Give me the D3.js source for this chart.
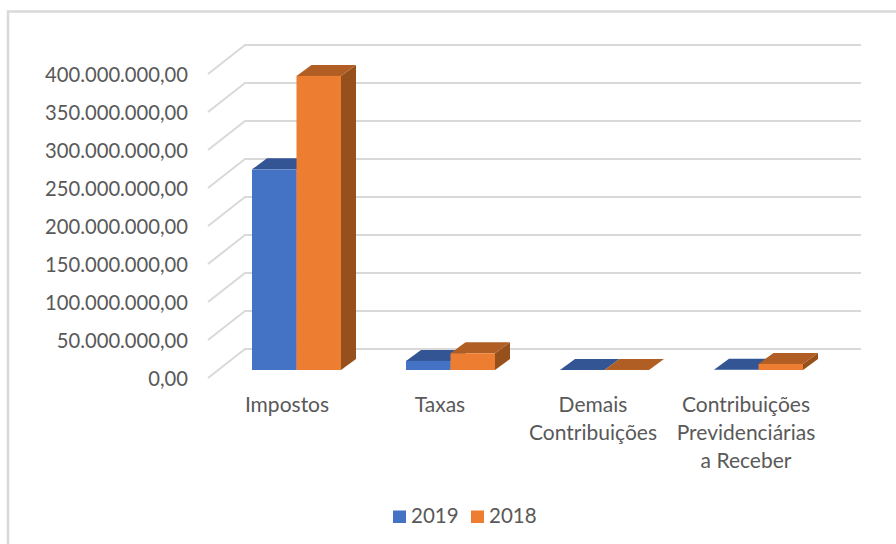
<!DOCTYPE html>
<html>
<head>
<meta charset="utf-8">
<script src="https://cdnjs.cloudflare.com/ajax/libs/d3/7.8.5/d3.min.js"></script>
<style>
html, body { margin: 0; padding: 0; background: #fff; }
svg { display: block; }
text { font-family: Lato, "Open Sans", sans-serif; fill: #595959; }
</style>
</head>
<body>
<div id="chart"></div>
<script>
// values
var categories = ["Impostos", "Taxas", "Demais Contribuições", "Contribuições Previdenciárias a Receber"];
var categoryLines = [["Impostos"], ["Taxas"], ["Demais", "Contribuições"], ["Contribuições", "Previdenciárias", "a Receber"]];
var seriesNames = ["2019", "2018"];
var values2019 = [264000000, 12000000, 150000, 200000];
var values2018 = [387000000, 22000000, 150000, 8000000];
var tickValues = [0, 50000000, 100000000, 150000000, 200000000, 250000000, 300000000, 350000000, 400000000];

var colors = {
    "2019": {front: "#4472c4", top: "#335593", side: "#2a4679"},
    "2018": {front: "#ed7d31", top: "#b15e24", side: "#96501c"}
};

var width = 896, height = 544;

var svg = d3.select("#chart").append("svg")
    .attr("width", width)
    .attr("height", height);

// chart frame, only left and top edges are in the crop
svg.append("path")
    .attr("d", "M8,544V11.5H896")
    .attr("fill", "none")
    .attr("stroke", "#d9d9d9")
    .attr("stroke-width", 2.5);

// y scale on the back wall, the front edge is shifted by wallDx / wallDy
var y = d3.scaleLinear().domain([0, 400000000]).range([349, 45]);
var wallDx = 37, wallDy = 29;
var wallLeft = 245, wallRight = 861;

var grid = svg.append("g");
tickValues.forEach(function (t) {
    grid.append("path")
        .attr("d", "M" + (wallLeft - wallDx) + "," + (y(t) + wallDy) + "L" + wallLeft + "," + y(t) + "H" + wallRight)
        .attr("fill", "none")
        .attr("stroke", "#d9d9d9")
        .attr("stroke-width", 2);
});

// axis labels
var axisY = d3.axisLeft(d3.scaleLinear().domain([0, 400000000]).range([349 + wallDy, 45 + wallDy]))
    .tickValues(tickValues)
    .tickSize(0)
    .tickPadding(0)
    .tickFormat(function (d) {
        return d3.format(",.2f")(d).replace(/,/g, "#").replace(".", ",").replace(/#/g, ".");
    });
var gy = svg.append("g")
    .attr("transform", "translate(188,1)")
    .call(axisY);
gy.select(".domain").remove();
gy.selectAll("text").style("font-size", "20.2px").style("font-family", null);

// bars
var x = d3.scaleBand().domain(categories).range([219.5, 835.5]);
var xSeries = d3.scaleBand().domain(seriesNames).range([0, 89]);
var base = 370, depthX = 15, depthY = 11;
var barY = d3.scaleLinear().domain([0, 400000000]).range([base, base - 304]);
var bandOffset = (x.bandwidth() - 89) / 2;

function drawBar(cat, name, value) {
    var x0 = x(cat) + bandOffset + xSeries(name);
    var x1 = x0 + xSeries.bandwidth();
    var yTop = barY(value);
    var c = colors[name];
    var g = svg.append("g");
    g.append("path")
        .attr("d", "M" + x1 + "," + base + "V" + yTop + "l" + depthX + "," + (-depthY) + "V" + (base - depthY) + "Z")
        .attr("fill", c.side);
    g.append("path")
        .attr("d", "M" + x0 + "," + yTop + "H" + x1 + "l" + depthX + "," + (-depthY) + "H" + (x0 + depthX) + "Z")
        .attr("fill", c.top);
    g.append("rect")
        .attr("x", x0)
        .attr("y", yTop)
        .attr("width", x1 - x0)
        .attr("height", base - yTop)
        .attr("fill", c.front);
}

categories.forEach(function (cat, i) {
    drawBar(cat, "2019", values2019[i]);
    drawBar(cat, "2018", values2018[i]);
});

// category labels, their centres step a bit less than the bars
var xLabel = d3.scalePoint().domain(categories).range([287, 746]);
categories.forEach(function (cat, i) {
    var t = svg.append("text")
        .attr("text-anchor", "middle")
        .style("font-size", "21px");
    categoryLines[i].forEach(function (line, j) {
        t.append("tspan")
            .attr("x", xLabel(cat))
            .attr("y", 412 + j * 28)
            .text(line);
    });
});

// legend
var legend = svg.append("g");
var legendX = d3.scaleOrdinal().domain(seriesNames).range([393, 471]);
seriesNames.forEach(function (name) {
    legend.append("rect")
        .attr("x", legendX(name))
        .attr("y", 510.5)
        .attr("width", 13)
        .attr("height", 12.5)
        .attr("fill", colors[name].front);
    legend.append("text")
        .attr("x", legendX(name) + 18)
        .attr("y", 523)
        .style("font-size", "20.5px")
        .text(name);
});
</script>
</body>
</html>
